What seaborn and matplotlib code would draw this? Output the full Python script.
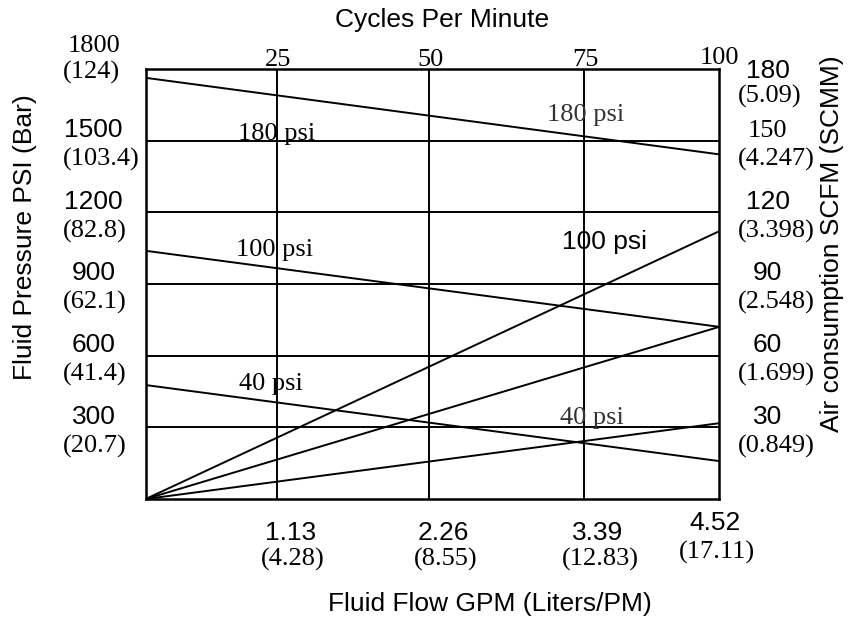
import matplotlib
matplotlib.use("Agg")
import matplotlib.pyplot as plt
import matplotlib.transforms as mtrans
import pandas as pd
import seaborn as sns

W, H = 858, 620
SANS = 'Liberation Sans'
SERIF = 'Liberation Serif'
FS = 19

# pump curves, read at 0 and 100 cycles/min
cycles = [0, 100]
fluid_180 = [1763, 1443]   # fluid pressure, psi
fluid_100 = [1039, 721]
fluid_40 = [477, 159]
air_100 = [0, 112]         # air consumption, SCFM
air_mid = [0, 72]
air_40 = [0, 31.7]

psi_ticks = [300, 600, 900, 1200, 1500, 1800]
bar_labels = ['(20.7)', '(41.4)', '(62.1)', '(82.8)', '(103.4)', '(124)']
scfm_ticks = [30, 60, 90, 120, 150, 180]
scmm_labels = ['(0.849)', '(1.699)', '(2.548)', '(3.398)', '(4.247)', '(5.09)']
cpm_grid = [22.9, 49.5, 76.5, 100]   # grid lines sit here in the source drawing
cpm_labels = ['25', '50', '75', '100']
gpm_labels = ['1.13', '2.26', '3.39', '4.52']
lpm_labels = ['(4.28)', '(8.55)', '(12.83)', '(17.11)']

fluid = pd.DataFrame({
    'cycles': cycles * 3,
    'psi': fluid_180 + fluid_100 + fluid_40,
    'curve': ['180'] * 2 + ['100'] * 2 + ['40'] * 2,
})
air = pd.DataFrame({
    'cycles': cycles * 3,
    'scfm': air_100 + air_mid + air_40,
    'curve': ['100'] * 2 + ['mid'] * 2 + ['40'] * 2,
})

sns.set_style('white')
plt.rcParams['text.color'] = 'black'
fig = plt.figure(figsize=(W / 100, H / 100), dpi=100)
ax = fig.add_axes([145.7 / W, (H - 499) / H, 573 / W, 430 / H])
ax2 = ax.twinx()

sns.lineplot(data=fluid, x='cycles', y='psi', units='curve', estimator=None,
             color='black', lw=1.4, ax=ax)
sns.lineplot(data=air, x='cycles', y='scfm', units='curve', estimator=None,
             color='black', lw=1.4, ax=ax2)

ax.set_xlim(0, 100)
ax.set_ylim(0, 1800)
ax2.set_ylim(0, 180)
for a in (ax, ax2):
    a.set_xlabel('')
    a.set_ylabel('')
    a.set_xticks([])
    a.set_yticks([])
for s in ax.spines.values():
    s.set_color('black')
    s.set_linewidth(1.8)
for s in ax2.spines.values():
    s.set_visible(False)

for v in psi_ticks[:-1]:
    ax.axhline(v, color='black', lw=1.4, zorder=1)
for c in cpm_grid[:-1]:
    ax.axvline(c, color='black', lw=1.4, zorder=1)


def off(trans, dx, dy):
    # dx right, dy down, in pixels
    return mtrans.offset_copy(trans, fig=fig, x=dx, y=-dy, units='dots')


ytr = ax.get_yaxis_transform()
xtr = ax.get_xaxis_transform()
txt_kw = dict(va='baseline', fontsize=FS, color='black')

# left: psi / bar
for v, lab in zip(psi_ticks, bar_labels):
    up, down = (17.5, 10) if v == 1800 else (3.5, 25)
    fam = SERIF if v == 1800 else SANS
    ax.text(0, v, str(v), transform=off(ytr, -52, -up), ha='center',
            family=fam, **txt_kw)
    ax.text(0, v, lab, transform=off(ytr, -83, down), ha='left',
            family=SERIF, **txt_kw)

# right: scfm / scmm
for v, lab in zip(scfm_ticks, scmm_labels):
    y = v * 10
    up, down = (-9.5, 34) if v == 180 else (3.5, 25)
    fam = SERIF if v == 150 else SANS
    ax.text(1, y, str(v), transform=off(ytr, 49, -up), ha='center',
            family=fam, **txt_kw)
    ax.text(1, y, lab, transform=off(ytr, 19, down), ha='left',
            family=SERIF, **txt_kw)

# top: cycles per minute
for c, lab in zip(cpm_grid, cpm_labels):
    up = 5.5 if c == 100 else 3.5
    ax.text(c, 1, lab, transform=off(xtr, 1, -up), ha='center',
            family=SERIF, **txt_kw)

# bottom: gpm / lpm
for c, g, l in zip(cpm_grid, gpm_labels, lpm_labels):
    if c == 100:
        dx, d1, d2 = -4, 31.5, 60
    else:
        dx, d1, d2 = 14, 40.5, 67
    ax.text(c, 0, g, transform=off(xtr, dx, d1), ha='center',
            family=SANS, **txt_kw)
    ax.text(c, 0, l, transform=off(xtr, dx + 2, d2), ha='center',
            family=SERIF, **txt_kw)

# curve labels (pixel positions of the baseline centre)
notes = [
    ('180 psi', 277, 140, SERIF, 'black'),
    ('100 psi', 275, 256, SERIF, 'black'),
    ('40 psi', 271, 390, SERIF, 'black'),
    ('180 psi', 586, 121, SERIF, '#333333'),
    ('100 psi', 604, 249, SANS, 'black'),
    ('40 psi', 592, 424, SERIF, '#333333'),
]
for txt, px, py, fam, col in notes:
    fig.text(px / W, 1 - py / H, txt, ha='center', va='baseline',
             family=fam, fontsize=FS, color=col)

fig.text(442 / W, 1 - 27 / H, 'Cycles Per Minute', ha='center',
         family=SANS, **txt_kw)
fig.text(490 / W, 1 - 611 / H, 'Fluid Flow GPM (Liters/PM)', ha='center',
         family=SANS, **txt_kw)
fig.text(32 / W, 1 - 237 / H, 'Fluid Pressure PSI (Bar)', rotation=90,
         rotation_mode='anchor', ha='center', family=SANS, **txt_kw)
fig.text(839 / W, 1 - 244 / H, 'Air consumption SCFM (SCMM)', rotation=90,
         rotation_mode='anchor', ha='center', family=SANS, **txt_kw)

fig.savefig('out.png', dpi=100)
